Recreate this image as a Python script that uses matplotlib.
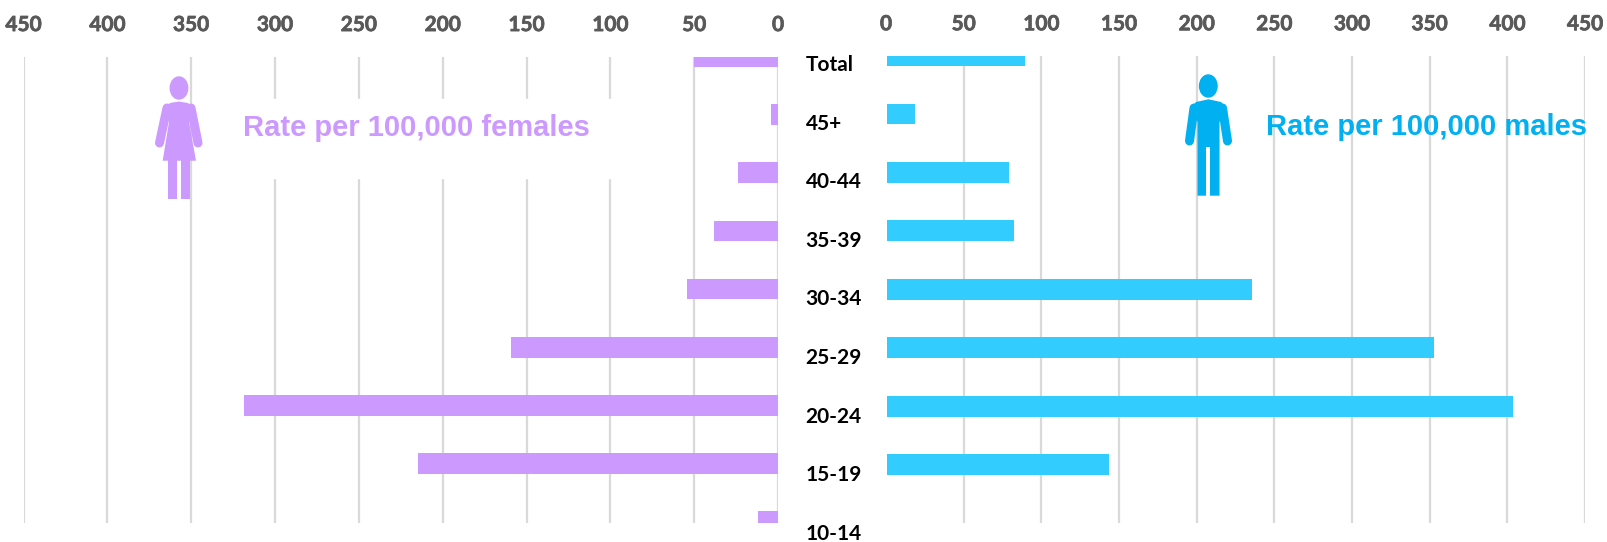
import matplotlib
matplotlib.use("Agg")
import matplotlib.patheffects as pe
import matplotlib.pyplot as plt
from matplotlib.patches import Ellipse, Polygon, Rectangle

W, H = 1607, 542

age_groups = ["Total", "45+", "40-44", "35-39", "30-34", "25-29", "20-24", "15-19", "10-14"]
female_rates = [50, 4, 24, 38, 54, 159, 318.5, 215, 12]
male_rates = [89, 18, 79, 82, 235, 352, 403, 143, 0]
ticks = [0, 50, 100, 150, 200, 250, 300, 350, 400, 450]

PURPLE = "#CC99FF"
BLUE_BAR = "#33CCFF"
BLUE = "#00B0F0"
GRID = "#D9D9D9"
TICK = "#595959"

plt.rcParams["font.family"] = "Lato"
plt.rcParams["font.weight"] = "bold"
fig = plt.figure(figsize=(W / 100, H / 100), dpi=100)


def px_axes(x0, x1, y0, y1):
    return fig.add_axes([x0 / W, 1 - y1 / H, (x1 - x0) / W, (y1 - y0) / H])


def style(ax, pad):
    ax.set_xticks(ticks)
    ax.set_xticklabels([])
    ax.set_yticks([])
    ax.tick_params(axis="x", length=0)
    # thin stroke, the grey numbers look too light otherwise
    for t in ticks:
        ax.annotate(str(t), xy=(t, 1), xycoords=("data", "axes fraction"), xytext=(0, pad),
                    textcoords="offset points", ha="center", va="center", fontsize=15,
                    fontweight="bold", color=TICK, annotation_clip=False,
                    path_effects=[pe.withStroke(linewidth=0.5, foreground=TICK)])
    for s in ax.spines.values():
        s.set_visible(False)
    ax.set_axisbelow(True)
    ax.grid(axis="x", color=GRID, linewidth=1.6)
    ax.patch.set_alpha(0)


y = list(range(len(age_groups)))

# left panel, axis runs right to left
left = px_axes(23.5, 778, 57, 523)
left.barh(y, female_rates, height=0.356, color=PURPLE)
left.set_xlim(450, 0)
left.set_ylim(8.02, 0.01)
style(left, 23)

# right panel
right = px_axes(886, 1585, 55.5, 523)
right.barh(y, male_rates, height=0.356, color=BLUE_BAR, left=0.5)
right.set_xlim(0, 450)
right.set_ylim(8.0, 0.0)
style(right, 22.5)
right.xaxis.get_gridlines()[0].set_visible(False)

# overlay in pixel coordinates for the icons and captions
over = fig.add_axes([0, 0, 1, 1])
over.set_xlim(0, W)
over.set_ylim(H, 0)
over.axis("off")
over.patch.set_alpha(0)

# white box behind the female caption hides the gridlines
over.add_patch(Rectangle((225, 99), 400, 79, color="white", zorder=1))


def arms(x_sh_l, x_sh_r, x_h_l, x_h_r, y_sh, y_h, color):
    for a, b in [(x_sh_l, x_h_l), (x_sh_r, x_h_r)]:
        over.plot([a, b], [y_sh, y_h], color=color, lw=6.5, solid_capstyle="round", zorder=3)


# female icon
over.add_patch(Ellipse((179, 88), 17.5, 22, color=PURPLE, zorder=3))
over.add_patch(Polygon([(165, 108), (170, 103), (179, 101.5), (188, 103), (193, 108),
                        (189, 122), (196, 160.7), (162.7, 160.7), (169, 122)],
                       color=PURPLE, zorder=3, lw=0))
arms(167, 191, 159.5, 198, 108, 143, PURPLE)
over.add_patch(Rectangle((168, 160), 9, 39, color=PURPLE, lw=0, zorder=3))
over.add_patch(Rectangle((180.5, 160), 9, 39, color=PURPLE, lw=0, zorder=3))

# male icon
over.add_patch(Ellipse((1208.3, 86), 17.5, 22, color=BLUE, zorder=3))
over.add_patch(Polygon([(1191.5, 107), (1196, 102), (1208.5, 99.3), (1221, 102), (1226, 107),
                        (1219.5, 122), (1219.5, 195.7), (1197.5, 195.7), (1197.5, 122)],
                       color=BLUE, zorder=3, lw=0))
arms(1194, 1222.5, 1189.5, 1227.5, 108, 141, BLUE)
over.add_patch(Rectangle((1206, 147.3), 4, 49, color="white", lw=0, zorder=3))

over.text(243, 128, "Rate per 100,000 females", color=PURPLE, fontsize=21, fontweight="bold",
          family="Liberation Sans", va="center", ha="left", zorder=4)
over.text(1266, 127, "Rate per 100,000 males", color=BLUE, fontsize=21, fontweight="bold",
          family="Liberation Sans", va="center", ha="left", zorder=4)

# age labels sit in the gap between the two panels
for i, name in enumerate(age_groups):
    over.text(805.5, 65 + 58.6 * i, name, fontsize=15, fontweight="bold", color="black",
              va="center", ha="left", zorder=4)

fig.savefig("out.png", dpi=100)
